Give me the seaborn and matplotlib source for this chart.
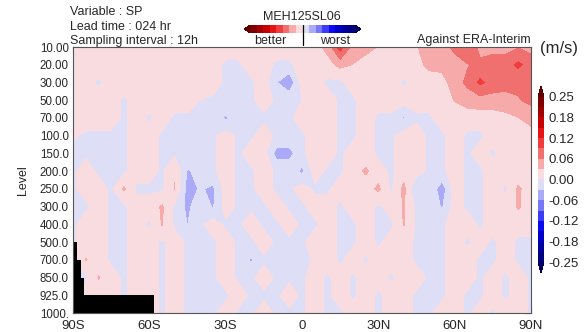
import numpy as np
import matplotlib
matplotlib.use("Agg")
import matplotlib.pyplot as plt
from matplotlib.colors import ListedColormap, BoundaryNorm
from matplotlib.cm import ScalarMappable
from matplotlib.ticker import NullLocator
import seaborn as sns

# ---- axes definitions -------------------------------------------------------
pressure_levels = [10, 20, 30, 50, 70, 100, 150, 200, 250, 300, 400, 500, 700, 850, 925, 1000]
level_labels = ["10.00", "20.00", "30.00", "50.00", "70.00", "100.0", "150.0", "200.0",
                "250.0", "300.0", "400.0", "500.0", "700.0", "850.0", "925.0", "1000."]
latitudes = list(range(-90, 91, 5))
lat_ticks = [-90, -60, -30, 0, 30, 60, 90]
lat_labels = ["90S", "60S", "30S", "0", "30N", "60N", "90N"]

# ---- zonal-mean SP score difference, units of 0.001 m/s (90S -> 90N) --------
d0010 = [14, 14, 14, 14, 14, 14, 14, 14, 14, 14, 14, 14, 14, 14, 14, 14, 14, 14, 14,
         20, 40, 110, 50, 40, 30, 14, 14, 30, 40, 50, 70, 95, 50, 50, 50, 60, 50]
d0020 = [14, 14, 14, 14, 14, 14, 14, 14, 14, 14, 14, 14, -6, -6, 14, 14, -6, -6, 14,
         14, 20, 40, 30, 20, 14, 14, 14, 20, 40, 40, 50, 60, 70, 80, 80, 100, 80]
d0030 = [14, 14, -6, 14, 14, 14, 14, 14, 14, 14, 14, 14, -6, -6, -6, 14, -30, -60, 14,
         14, -6, -6, 14, 14, 14, 14, -6, 14, 14, 20, 45, 70, 100, 80, 70, 70, 70]
d0050 = [14, 14, 14, 14, -6, 14, 14, 14, 14, 14, 0, -6, -6, -6, -6, 14, -6, -6, 0,
         14, 14, -6, -6, 14, 14, 14, 14, 14, 14, 15, 33, 45, 50, 50, 55, 60, 70]
d0070 = [14, 14, 14, 14, -6, 14, -6, 14, -6, -6, -6, -6, -38, -6, -6, -6, -6, -6, 14,
         14, 14, -6, -6, 14, -6, -6, -36, -6, -6, 14, 14, 14, 14, 15, 20, 30, 45]
d0100 = [3, -5, -6, -6, -6, 14, 14, -6, -6, -6, -6, -6, 14, -6, -6, 14, -6, -6, -6,
         14, 14, -6, -6, 14, -6, -6, 14, 14, -6, -6, 14, -6, -6, 14, 14, 14, 15]
d0150 = [-6, -6, -6, -6, -6, 14, 14, -6, -6, -6, -6, -6, 14, -6, 14, 14, -45, -45, -6,
         14, 14, -6, 14, 14, -6, -6, 14, 14, -6, -6, 14, -6, 14, -6, 14, 14, 14]
d0200 = [-6, 14, -6, -6, -6, 14, 14, -6, 30, -35, -20, -6, 14, -6, -6, 14, -6, -6, -40,
         14, -6, -6, 14, 36, 14, -6, 14, 14, -6, -6, 14, -6, -6, 14, 14, 14, 14]
d0250 = [-6, 14, 14, -6, 36, -6, -6, -6, 32, -45, -28, -38, 14, -6, -6, 14, -6, -6, 14,
         -6, -6, 14, 14, 14, 38, -6, 40, -34, -6, -50, 14, -6, -6, 14, -6, 36, 14]
d0300 = [-6, -6, 14, -6, -6, 14, 14, 35, -6, -40, -6, -35, 14, -6, -6, -6, 14, -6, -6,
         14, 14, -6, 14, 14, -6, 14, 33, -6, -6, -35, 14, -6, -6, 14, 14, 35, 14]
d0400 = [-6, 14, 14, -6, -6, 14, -6, 33, -6, -32, -6, 14, -6, -6, 14, -6, -6, 14, -6,
         -6, 14, -6, -6, 14, -6, -6, 33, -6, -6, -6, 14, 14, -6, 14, 14, 14, 14]
d0500 = [-6, 14, 14, -6, -6, 14, 14, -6, 14, -6, -6, -6, 14, -6, -6, 14, -6, -6, -6,
         14, 14, -6, -6, 14, -6, 14, 14, -6, -6, -6, 14, -6, 14, -6, 14, -6, -6]
d0700 = [-6, 33, 14, -6, -6, 14, 14, -6, 14, -6, -6, -6, 14, -6, -36, -6, -6, -6, -34,
         14, 14, -6, 14, -6, 14, 14, 14, -6, -6, -6, 14, 14, -6, -6, 14, -6, -6]
d0850 = [-6, -6, 33, 14, -6, 14, 14, -6, 14, -6, -6, -6, 14, -6, -6, 14, -6, -6, -6,
         14, -6, 14, -6, 14, 14, -6, 14, 14, -6, -6, 14, 14, -6, 14, -6, 14, -6]
d0925 = [-6, 14, 14, 14, -6, 14, 14, -6, 14, -6, -6, -6, -6, 14, -6, -6, -6, 14, -6,
         14, -6, 14, -6, 14, -6, 14, 14, -6, -6, -6, 14, -6, -6, 14, -6, 14, -6]
d1000 = [14, 14, 14, 14, 14, 14, 14, -6, 14, -6, -6, -6, 14, -6, -6, 14, -6, -6, -6,
         14, -6, -6, 14, 14, -6, 14, 14, -6, -6, 14, 14, -6, 14, -6, 14, 14, -6]

# below-ground layers (no data): layer top level and northern edge latitude
mask_top_levels = [500, 700, 850, 925]
mask_edge_lats = [-88.5, -87.0, -85.5, -58.0]

# ---- contour levels and colours -------------------------------------------
bounds = np.linspace(-0.25, 0.25, 17)
cbar_ticks = bounds[::2]
cbar_labels = ["-0.25", "-0.18", "-0.12", "-0.06", "0.00", "0.06", "0.12", "0.18", "0.25"]
colors = ["#00005A", "#000080", "#0000A0", "#0000C8", "#0A0AF0", "#3C3CF8", "#7878F8",
          "#AAAAF8", "#DEDEF6", "#F8DCE0", "#F6AAAA", "#F07070", "#F03C3C", "#E61414",
          "#C80000", "#A00000", "#800000", "#5A0000"]

# ---- style -----------------------------------------------------------------
sns.set_theme(style="white")
plt.rcParams["font.family"] = ["Liberation Sans", "DejaVu Sans"]

W, H = 584, 332
fig = plt.figure(figsize=(W / 100, H / 100), dpi=100)


def fx(x):
    return x / W


def fy(y):
    return 1 - y / H


rows = [d0010, d0020, d0030, d0050, d0070, d0100, d0150, d0200, d0250, d0300,
        d0400, d0500, d0700, d0850, d0925, d1000]
field = np.array(rows, dtype=float) * 0.001
lev_idx = np.arange(len(pressure_levels))

cmap = ListedColormap(colors[1:-1])
cmap.set_under(colors[0])
cmap.set_over(colors[-1])
norm = BoundaryNorm(bounds, cmap.N)

ax = fig.add_axes([fx(73), fy(313), fx(531) - fx(73), fy(47) - fy(313)])
cf = ax.contourf(latitudes, lev_idx, field, levels=bounds, cmap=cmap, norm=norm, extend="both")

# missing data below the surface
for top, edge in zip(mask_top_levels, mask_edge_lats):
    i = pressure_levels.index(top)
    ax.barh(i, edge - latitudes[0], left=latitudes[0], height=1.0, align="edge",
            color="black", linewidth=0)

ax.set_xlim(-90, 90)
ax.set_ylim(len(pressure_levels) - 1, 0)
ax.set_xticks(lat_ticks)
ax.set_xticklabels(lat_labels, fontsize=9.5)
ax.set_yticks(lev_idx)
ax.set_yticklabels(level_labels, fontsize=8.3)
ax.tick_params(direction="in", length=4, width=0.8, color="#444444",
               top=True, right=True, bottom=True, left=True, pad=3)
ax.tick_params(axis="x", pad=5)
for s in ax.spines.values():
    s.set_color("#555555")
    s.set_linewidth(0.8)
ax.set_ylabel("Level", fontsize=9, labelpad=8)

# main colour bar
cax = fig.add_axes([fx(538), fy(273), fx(544) - fx(538), fy(86) - fy(273)])
cb = fig.colorbar(cf, cax=cax, ticks=cbar_ticks, extendfrac=0.065)
cb.set_ticklabels(cbar_labels)
cb.ax.tick_params(length=0, labelsize=9.5, pad=3)
cb.ax.yaxis.set_minor_locator(NullLocator())
cb.outline.set_linewidth(0)
fig.text(fx(540), fy(49), "(m/s)", fontsize=12, ha="left", va="center")

# better / worst legend bar
cmap_r = ListedColormap(colors[1:-1][::-1])
cmap_r.set_under(colors[-1])
cmap_r.set_over(colors[0])
lax = fig.add_axes([fx(244), fy(33), fx(361) - fx(244), fy(25) - fy(33)])
lcb = fig.colorbar(ScalarMappable(norm=norm, cmap=cmap_r), cax=lax,
                   orientation="horizontal", extend="both", extendfrac=0.06)
lcb.set_ticks([])
lax.xaxis.set_minor_locator(NullLocator())
lax.tick_params(which="both", length=0)
lcb.outline.set_linewidth(0)
lax.plot([0.5, 0.5], [1.0, -1.5], transform=lax.transAxes, color="black",
         lw=0.9, clip_on=False)

fig.text(fx(302), fy(17), "MEH125SL06", fontsize=9, ha="center", va="center")
fig.text(fx(270), fy(41), "better", fontsize=9, ha="center", va="center")
fig.text(fx(335), fy(41), "worst", fontsize=9, ha="center", va="center")
fig.text(fx(531), fy(40), "Against ERA-Interim", fontsize=9, ha="right", va="center")
fig.text(fx(70), fy(12), "Variable : SP", fontsize=9, ha="left", va="center")
fig.text(fx(70), fy(27), "Lead time : 024 hr", fontsize=9, ha="left", va="center")
fig.text(fx(70), fy(41), "Sampling interval : 12h", fontsize=9, ha="left", va="center")

fig.savefig("out.png", dpi=100)
